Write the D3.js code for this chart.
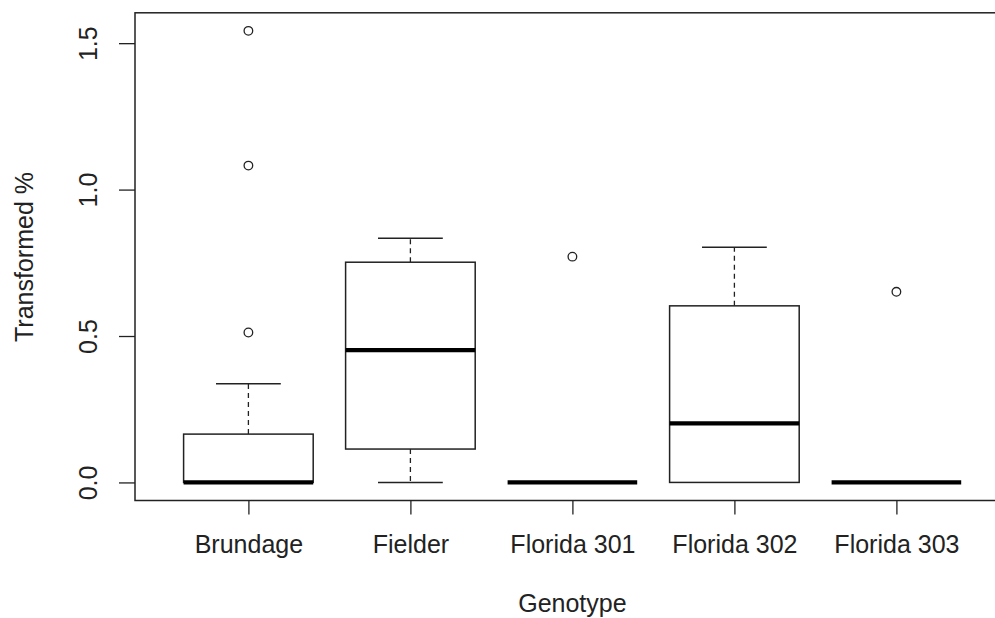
<!DOCTYPE html>
<html>
<head>
<meta charset="utf-8">
<script src="https://cdn.jsdelivr.net/npm/d3@7"></script>
<style>
  html, body { margin: 0; padding: 0; background: #fff; }
  svg { display: block; }
  text { font-family: "Liberation Sans", Arial, sans-serif; fill: #222; }
</style>
</head>
<body>
<svg id="chart" width="995" height="618"></svg>
<script>
const categories = ["Brundage", "Fielder", "Florida 301", "Florida 302", "Florida 303"];
const whiskerLow  = [0.000, 0.000, 0.000, 0.000, 0.000];
const q1          = [0.000, 0.114, 0.000, 0.000, 0.000];
const median      = [0.000, 0.452, 0.000, 0.202, 0.000];
const q3          = [0.165, 0.752, 0.000, 0.603, 0.000];
const whiskerHigh = [0.337, 0.834, 0.000, 0.803, 0.000];
const outliers    = [[0.512, 1.082, 1.542], [], [0.771], [], [0.651]];
const yTicks = [0, 0.5, 1.0, 1.5];
const yTickLabels = ["0.0", "0.5", "1.0", "1.5"];
const xTitle = "Genotype";
const yTitle = "Transformed %";

const svg = d3.select("#chart");
const ink = "#222";
const fontSize = "25px";

const x = d3.scaleLinear().domain([0.3, 5.7]).range([135, 1009.8]);
const y = d3.scaleLinear().domain([-0.0617, 1.6037]).range([500.5, 12.8]);

const boxW = x(0.8) - x(0);
const capW = x(0.4) - x(0);

// frame
svg.append("rect")
  .attr("x", x(0.3)).attr("y", y(1.6037))
  .attr("width", x(5.7) - x(0.3)).attr("height", y(-0.0617) - y(1.6037))
  .attr("fill", "none").attr("stroke", ink).attr("stroke-width", 1.5);

const data = categories.map((c, i) => ({
  c, i: i + 1, lo: whiskerLow[i], q1: q1[i], med: median[i], q3: q3[i], hi: whiskerHigh[i], out: outliers[i]
}));

const g = svg.append("g");
const boxes = g.selectAll("g.box").data(data).join("g").attr("class", "box");

// whiskers (dashed)
boxes.filter(d => d.hi > d.q3).append("line")
  .attr("x1", d => x(d.i)).attr("x2", d => x(d.i))
  .attr("y1", d => y(d.q3)).attr("y2", d => y(d.hi))
  .attr("stroke", ink).attr("stroke-width", 1.3).attr("stroke-dasharray", "5,4");
boxes.filter(d => d.lo < d.q1).append("line")
  .attr("x1", d => x(d.i)).attr("x2", d => x(d.i))
  .attr("y1", d => y(d.q1)).attr("y2", d => y(d.lo))
  .attr("stroke", ink).attr("stroke-width", 1.3).attr("stroke-dasharray", "5,4");
// caps
boxes.filter(d => d.hi > d.q3).append("line")
  .attr("x1", d => x(d.i) - capW / 2).attr("x2", d => x(d.i) + capW / 2)
  .attr("y1", d => y(d.hi)).attr("y2", d => y(d.hi))
  .attr("stroke", ink).attr("stroke-width", 1.5);
boxes.filter(d => d.lo < d.q1).append("line")
  .attr("x1", d => x(d.i) - capW / 2).attr("x2", d => x(d.i) + capW / 2)
  .attr("y1", d => y(d.lo)).attr("y2", d => y(d.lo))
  .attr("stroke", ink).attr("stroke-width", 1.5);
// box
boxes.filter(d => d.q3 > d.q1).append("rect")
  .attr("x", d => x(d.i) - boxW / 2).attr("width", boxW)
  .attr("y", d => y(d.q3)).attr("height", d => y(d.q1) - y(d.q3))
  .attr("fill", "#fff").attr("stroke", ink).attr("stroke-width", 1.5);
// median
boxes.append("line")
  .attr("x1", d => x(d.i) - boxW / 2).attr("x2", d => x(d.i) + boxW / 2)
  .attr("y1", d => y(d.med)).attr("y2", d => y(d.med))
  .attr("stroke", "#000").attr("stroke-width", 4.2);
// outliers
boxes.selectAll("circle").data(d => d.out.map(v => ({ i: d.i, v }))).join("circle")
  .attr("cx", d => x(d.i)).attr("cy", d => y(d.v)).attr("r", 4.3)
  .attr("fill", "none").attr("stroke", ink).attr("stroke-width", 1.3);

// x axis
const xAxis = d3.axisBottom(x).tickValues(d3.range(1, categories.length + 1))
  .tickFormat(v => categories[v - 1]).tickSize(14).tickPadding(20.5);
const xa = svg.append("g").attr("transform", `translate(0,${y(-0.0617)})`).call(xAxis);
xa.select(".domain").remove();
xa.selectAll(".tick line").attr("stroke", ink).attr("stroke-width", 1.3);
xa.selectAll(".tick text").style("font-size", fontSize)
  .style("font-family", "'Liberation Sans', Arial, sans-serif").attr("fill", ink);

// y axis
const yAxis = d3.axisLeft(y).tickValues(yTicks).tickFormat((v, k) => yTickLabels[k]).tickSize(16).tickPadding(0);
const ya = svg.append("g").attr("transform", `translate(${x(0.3)},0)`).call(yAxis);
ya.select(".domain").remove();
ya.selectAll(".tick line").attr("stroke", ink).attr("stroke-width", 1.3);
ya.selectAll(".tick text")
  .attr("x", 0).attr("dy", 0)
  .attr("text-anchor", "middle")
  .attr("transform", "translate(-38,0) rotate(-90)")
  .style("font-size", fontSize)
  .style("font-family", "'Liberation Sans', Arial, sans-serif").attr("fill", ink);

// titles
svg.append("text").attr("x", (x(0.3) + x(5.7)) / 2).attr("y", 612).attr("text-anchor", "middle")
  .style("font-size", fontSize).text(xTitle);
svg.append("text").attr("transform", "translate(33,257) rotate(-90)").attr("text-anchor", "middle")
  .style("font-size", fontSize).text(yTitle);
</script>
</body>
</html>
